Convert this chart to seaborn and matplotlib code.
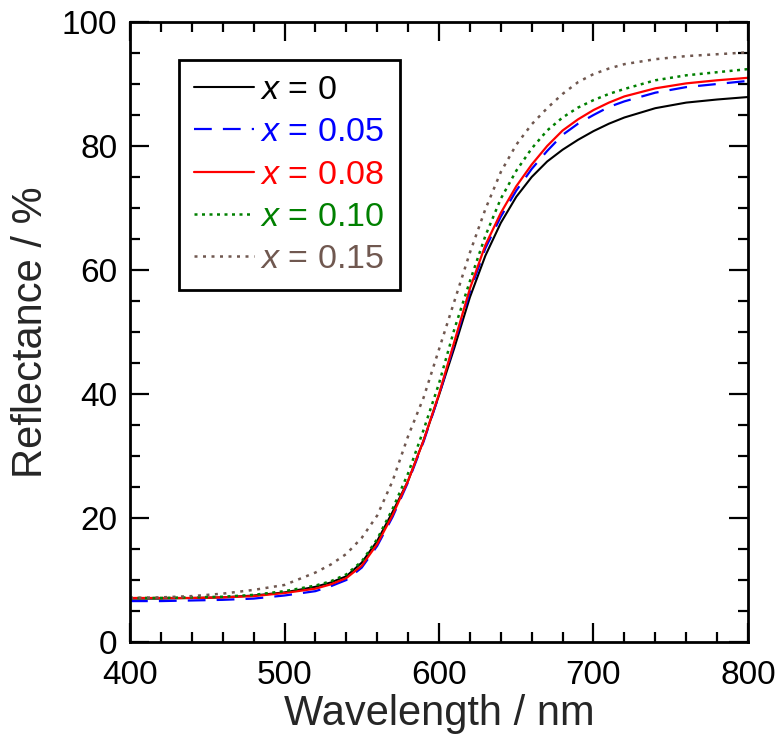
import numpy as np
import pandas as pd
import matplotlib
matplotlib.use("Agg")
import matplotlib.pyplot as plt
import seaborn as sns

wavelength = [400, 420, 440, 460, 480, 500, 520, 530, 540, 550, 560, 570, 580, 590, 600, 610,
              620, 630, 640, 650, 660, 670, 680, 690, 700, 710, 720, 740, 760, 780, 800]

r_x000 = [7.0, 7.0, 7.1, 7.2, 7.5, 8.0, 8.9, 9.6, 10.6, 12.8, 16.3, 21.0, 26.0, 32.5, 39.8, 47.5,
          55.6, 62.3, 67.6, 71.8, 75.0, 77.5, 79.4, 81.0, 82.4, 83.6, 84.6, 86.1, 87.0, 87.5, 87.9]
r_x005 = [6.6, 6.6, 6.7, 6.8, 7.0, 7.5, 8.2, 9.0, 10.0, 12.0, 15.5, 20.2, 25.8, 32.3, 39.8, 48.2,
          56.5, 63.5, 68.6, 72.8, 76.3, 79.2, 81.8, 83.6, 85.0, 86.3, 87.2, 88.6, 89.5, 90.0, 90.5]
r_x008 = [7.1, 7.1, 7.1, 7.2, 7.4, 7.9, 8.6, 9.3, 10.3, 12.3, 15.8, 20.5, 26.0, 32.5, 40.0, 48.5,
          57.0, 64.0, 69.2, 73.5, 77.0, 80.0, 82.5, 84.3, 85.8, 87.0, 88.0, 89.3, 90.1, 90.6, 91.0]
r_x010 = [7.1, 7.1, 7.2, 7.3, 7.6, 8.2, 9.1, 9.8, 10.9, 13.0, 16.6, 21.5, 27.2, 34.2, 41.7, 50.5,
          58.2, 65.5, 71.5, 76.0, 79.6, 82.5, 84.6, 86.2, 87.4, 88.4, 89.2, 90.6, 91.4, 91.9, 92.4]
r_x015 = [7.1, 7.2, 7.4, 7.8, 8.4, 9.2, 11.2, 12.5, 14.2, 16.8, 20.4, 26.0, 33.2, 39.4, 47.2, 55.0,
          62.8, 69.8, 75.8, 80.2, 83.5, 86.1, 88.4, 90.3, 91.6, 92.5, 93.2, 94.0, 94.5, 94.8, 95.1]

labels = ["$x$ = 0", "$x$ = 0.05", "$x$ = 0.08", "$x$ = 0.10", "$x$ = 0.15"]
series = [r_x000, r_x005, r_x008, r_x010, r_x015]
colors = ["#000000", "#0000ff", "#ff0000", "#008000", "#705850"]
styles = ["-", (0, (8, 5)), "-", (0, (1.2, 1.8)), (0, (1.2, 2.2))]
widths = [1.5, 1.6, 1.6, 1.8, 1.8]

sns.set_theme(style="ticks")
plt.rcParams["font.family"] = ["Liberation Sans", "DejaVu Sans"]
plt.rcParams["mathtext.fontset"] = "custom"
plt.rcParams["mathtext.it"] = "Liberation Sans:italic"
plt.rcParams["mathtext.rm"] = "Liberation Sans"

fig = plt.figure(figsize=(7.8, 7.45), dpi=100)
ax = fig.add_axes([130 / 780, 1 - 642 / 745, 618 / 780, 620 / 745])

for lab, vals, c, ls, lw in zip(labels, series, colors, styles, widths):
    df = pd.DataFrame({"Wavelength": wavelength, "Reflectance": vals})
    sns.lineplot(data=df, x="Wavelength", y="Reflectance", ax=ax, color=c,
                 linestyle=ls, linewidth=lw, label=lab + r"$\enspace\;$")

ax.set_xlim(400, 800)
ax.set_ylim(0, 100)
ax.set_xticks([400, 500, 600, 700, 800])
ax.set_yticks([0, 20, 40, 60, 80, 100])
ax.set_xticks(np.arange(400, 801, 20), minor=True)
ax.set_yticks(np.arange(0, 101, 5), minor=True)
ax.tick_params(which="both", direction="in", top=True, right=True, width=1.6, colors="black",
               labelsize=24)
ax.tick_params(axis="x", which="both", pad=13)
ax.tick_params(axis="y", which="both", pad=9)
ax.tick_params(which="major", length=14)
ax.tick_params(which="minor", length=7)
for s in ax.spines.values():
    s.set_linewidth(2)
    s.set_color("black")
ax.set_xlabel("Wavelength / nm", fontsize=30, labelpad=2)
ax.set_ylabel("Reflectance / %", fontsize=30, labelpad=8)

leg = ax.legend(loc="upper left", bbox_to_anchor=(0.079, 0.939), borderaxespad=0,
                fontsize=24.5, handlelength=1.75, handletextpad=0.2, labelspacing=0.33,
                borderpad=0.45, fancybox=False, framealpha=1, edgecolor="black")
leg.get_frame().set_linewidth(2)
for t, c in zip(leg.get_texts(), colors):
    t.set_color(c)

fig.savefig("out.png", dpi=100)
